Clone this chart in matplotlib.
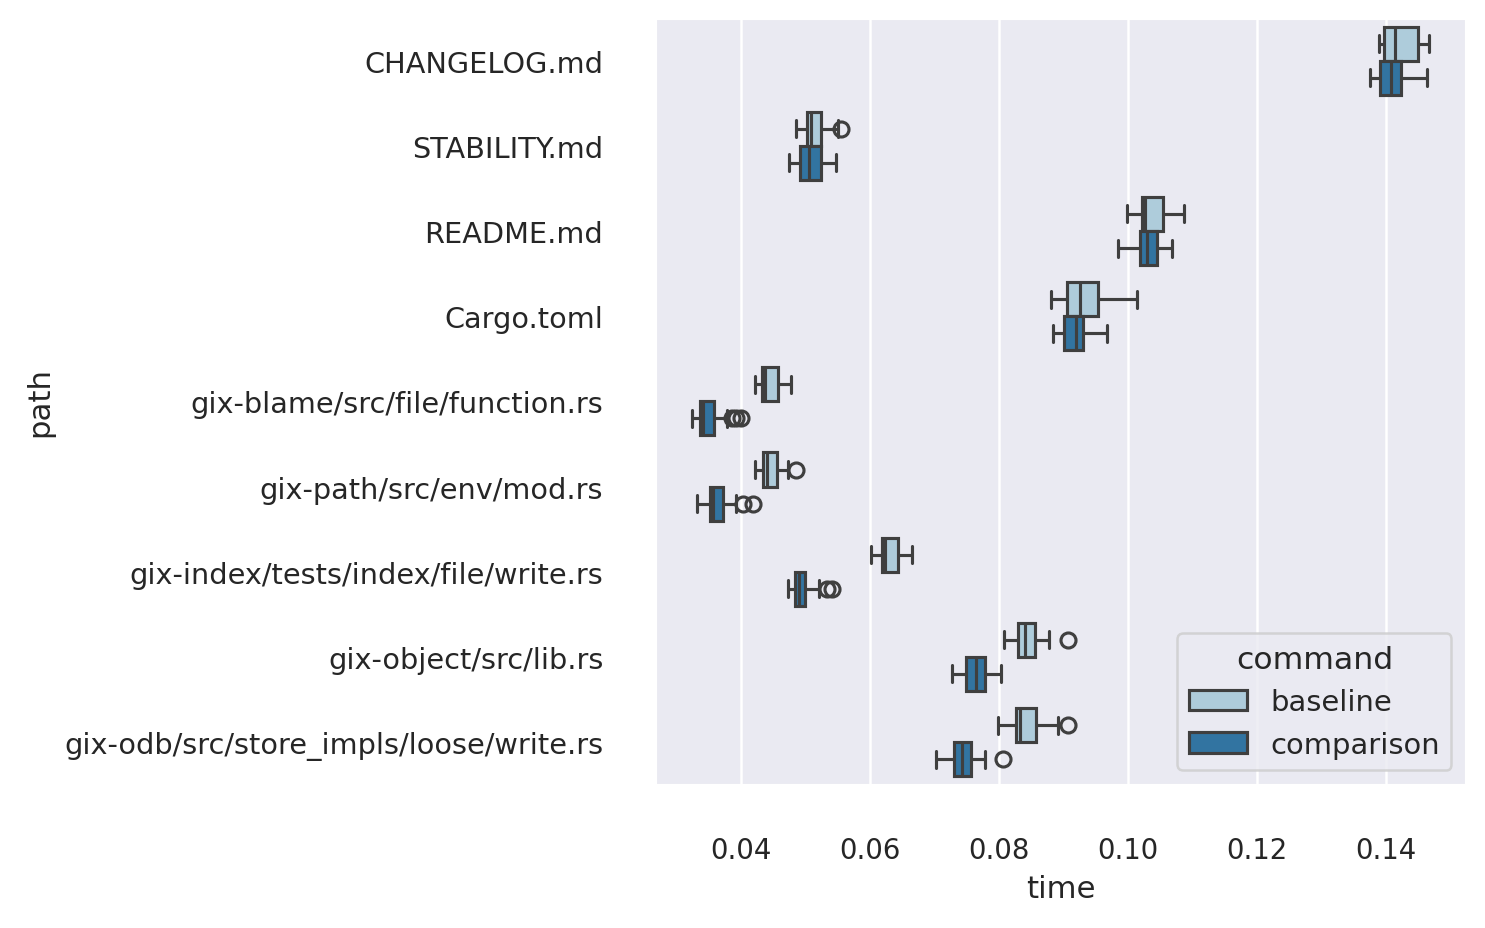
import matplotlib
matplotlib.use("Agg")
import matplotlib.pyplot as plt
from matplotlib.patches import Patch
import seaborn as sns

paths = ["CHANGELOG.md", "STABILITY.md", "README.md", "Cargo.toml",
         "gix-blame/src/file/function.rs", "gix-path/src/env/mod.rs",
         "gix-index/tests/index/file/write.rs", "gix-object/src/lib.rs",
         "gix-odb/src/store_impls/loose/write.rs"]

# summary stats (seconds)
base_lo  = [0.1389, 0.0485, 0.0998, 0.0880, 0.0422, 0.0422, 0.0602, 0.0808, 0.0798]
base_q1  = [0.1397, 0.0502, 0.1022, 0.0905, 0.0433, 0.0435, 0.0619, 0.0830, 0.0826]
base_med = [0.1414, 0.0509, 0.1026, 0.0926, 0.0438, 0.0441, 0.0624, 0.0841, 0.0833]
base_q3  = [0.1449, 0.0524, 0.1054, 0.0954, 0.0457, 0.0456, 0.0643, 0.0856, 0.0857]
base_hi  = [0.1467, 0.0550, 0.1087, 0.1014, 0.0478, 0.0473, 0.0666, 0.0878, 0.0891]
base_fl  = [[], [0.0556], [], [], [], [0.0485], [], [0.0907], [0.0907]]

comp_lo  = [0.1375, 0.0475, 0.0985, 0.0884, 0.0325, 0.0332, 0.0473, 0.0727, 0.0702]
comp_q1  = [0.1391, 0.0492, 0.1018, 0.0901, 0.0336, 0.0352, 0.0484, 0.0749, 0.0730]
comp_med = [0.1407, 0.0505, 0.1029, 0.0920, 0.0342, 0.0357, 0.0490, 0.0764, 0.0743]
comp_q3  = [0.1423, 0.0524, 0.1045, 0.0931, 0.0358, 0.0372, 0.0500, 0.0778, 0.0756]
comp_hi  = [0.1463, 0.0548, 0.1069, 0.0968, 0.0378, 0.0392, 0.0521, 0.0803, 0.0779]
comp_fl  = [[], [], [], [], [0.0386, 0.0393, 0.0401], [0.0404, 0.0419], [0.0533, 0.0541], [], [0.0807]]

commands = ["baseline", "comparison"]

sns.set_theme()
pal = sns.color_palette("Paired")
colors = [sns.desaturate(pal[0], 0.75), sns.desaturate(pal[1], 0.75)]
line_c = "#3f3f3f"

fig = plt.figure(figsize=(8.25, 5.161), dpi=180)
ax = fig.add_axes([0.4411, 0.1543, 0.9872 - 0.4411, 0.9795 - 0.1543])


def make_stats(lo, q1, med, q3, hi, fl):
    return [dict(whislo=a, q1=b, med=c, q3=d, whishi=e, fliers=f)
            for a, b, c, d, e, f in zip(lo, q1, med, q3, hi, fl)]


groups = [make_stats(base_lo, base_q1, base_med, base_q3, base_hi, base_fl),
          make_stats(comp_lo, comp_q1, comp_med, comp_q3, comp_hi, comp_fl)]
offsets = [-0.2, 0.2]

for stats, off, col in zip(groups, offsets, colors):
    ax.bxp(stats, positions=[i + off for i in range(len(paths))],
           widths=0.4, capwidths=0.2, orientation="horizontal",
           patch_artist=True, manage_ticks=False,
           boxprops=dict(facecolor=col, edgecolor=line_c, linewidth=1.25),
           medianprops=dict(color=line_c, linewidth=1.25),
           whiskerprops=dict(color=line_c, linewidth=1.25),
           capprops=dict(color=line_c, linewidth=1.25),
           flierprops=dict(marker="o", markersize=6, markerfacecolor="none",
                           markeredgecolor=line_c, markeredgewidth=1.25))

ax.set_yticks(range(len(paths)))
ax.set_yticklabels(paths)
ax.set_ylim(len(paths) - 0.5, -0.5)
ax.set_xlim(0.0267, 0.1524)
ax.set_xticks([0.04, 0.06, 0.08, 0.10, 0.12, 0.14])
ax.set_xticklabels(["0.04", "0.06", "0.08", "0.10", "0.12", "0.14"])
ax.grid(axis="y", visible=False)

pad0 = ax.xaxis.get_major_ticks()[0].get_pad()
ax.tick_params(axis="x", pad=pad0 + 11.2)
ax.tick_params(axis="y", pad=pad0 + 11.2, labelsize=11.5)
ax.set_xlabel("time", fontsize=12.3)
ax.set_ylabel("path", fontsize=12.3)

handles = [Patch(facecolor=c, edgecolor=line_c, linewidth=1.25) for c in colors]
ax.legend(handles, commands, title="command", loc="lower right",
          fontsize=11.6, title_fontsize=12.6)

fig.savefig("out.png", dpi=180)
